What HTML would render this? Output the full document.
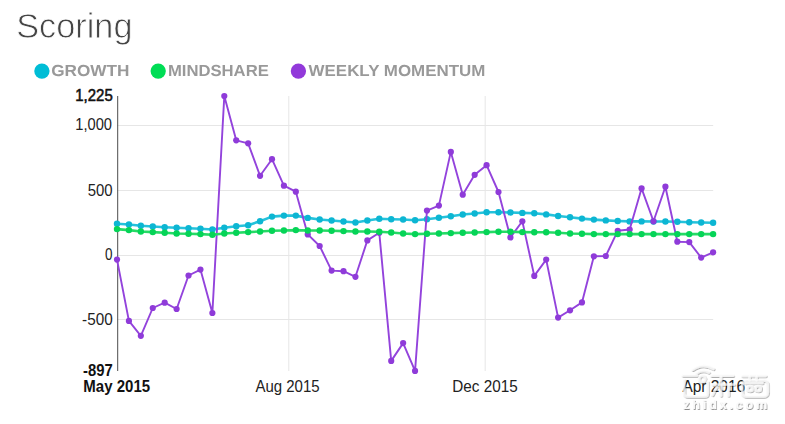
<!DOCTYPE html>
<html><head><meta charset="utf-8">
<style>
html,body{margin:0;padding:0;background:#fff;}
body{width:785px;height:424px;overflow:hidden;position:relative;font-family:"Liberation Sans",sans-serif;}
svg{position:absolute;left:0;top:0;}
svg.hd{will-change:transform;z-index:2;}
svg text{font-family:"Liberation Sans",sans-serif;font-size:16px;fill:#222;}
svg text.b{font-weight:bold;fill:#111;}
svg text.s{fill:#111;stroke:#111;stroke-width:0.55px;}
svg text.x{font-size:15.8px;}
svg text.t{font-size:34.5px;fill:#454545;stroke:#fff;stroke-width:0.8px;paint-order:fill stroke;}
svg text.l{text-rendering:geometricPrecision;font-size:16px;font-weight:bold;fill:#999;}
svg text.wm{font-size:12.5px;font-weight:bold;fill:#fbfbfb;}
</style></head><body>
<svg class="hd" width="785" height="90" viewBox="0 0 785 90">
<text class="t" x="16.2" y="38.3" textLength="116.3" lengthAdjust="spacingAndGlyphs">Scoring</text>
<circle cx="41.9" cy="71.05" r="7.65" fill="#00bdd6"/>
<text class="l" transform="translate(0 76.0) scale(1 1.0)" x="51.2" y="0" textLength="78.3" lengthAdjust="spacingAndGlyphs">GROWTH</text>
<circle cx="158.2" cy="71.05" r="7.65" fill="#00dd55"/>
<text class="l" transform="translate(0 76.0) scale(1 1.0)" x="167.9" y="0" textLength="100.9" lengthAdjust="spacingAndGlyphs">MINDSHARE</text>
<circle cx="298.4" cy="71.05" r="7.65" fill="#9239da"/>
<text class="l" transform="translate(0 76.0) scale(1 1.0)" x="308.6" y="0" textLength="176.8" lengthAdjust="spacingAndGlyphs">WEEKLY MOMENTUM</text>
</svg>
<svg width="785" height="424" viewBox="0 0 785 424">
<line x1="117" y1="125.5" x2="713.2" y2="125.5" stroke="#e6e6e6" stroke-width="1"/>
<line x1="117" y1="190.5" x2="713.2" y2="190.5" stroke="#e6e6e6" stroke-width="1"/>
<line x1="117" y1="255.5" x2="713.2" y2="255.5" stroke="#e6e6e6" stroke-width="1"/>
<line x1="117" y1="319.5" x2="713.2" y2="319.5" stroke="#e6e6e6" stroke-width="1"/>
<line x1="288.8" y1="96" x2="288.8" y2="371" stroke="#e6e6e6" stroke-width="1"/>
<line x1="485.2" y1="96" x2="485.2" y2="371" stroke="#e6e6e6" stroke-width="1"/>
<line x1="117.7" y1="96" x2="117.7" y2="371" stroke="#4d4d4d" stroke-width="1"/>
<polyline points="117.00,223.80 128.92,224.50 140.84,225.80 152.77,226.50 164.69,227.20 176.61,227.80 188.53,228.20 200.45,228.80 212.38,229.50 224.30,227.80 236.22,226.20 248.14,225.20 260.06,221.20 271.99,216.60 283.91,215.60 295.83,215.60 307.75,217.90 319.67,219.50 331.60,220.50 343.52,221.50 355.44,222.50 367.36,220.50 379.28,218.80 391.21,219.20 403.13,219.50 415.05,220.20 426.97,219.20 438.89,217.80 450.82,216.20 462.74,214.50 474.66,213.50 486.58,212.20 498.50,212.20 510.43,212.50 522.35,212.90 534.27,213.30 546.19,214.40 558.11,216.00 570.04,217.30 581.96,218.60 593.88,219.60 605.80,220.40 617.72,221.00 629.65,221.40 641.57,221.40 653.49,221.50 665.41,221.50 677.33,221.80 689.26,222.20 701.18,222.50 713.10,222.70" fill="none" stroke="#25c2db" stroke-width="2.6" stroke-linejoin="round" stroke-linecap="round"/>
<circle cx="117.00" cy="223.80" r="3.2" fill="#0cb6d3"/><circle cx="128.92" cy="224.50" r="3.2" fill="#0cb6d3"/><circle cx="140.84" cy="225.80" r="3.2" fill="#0cb6d3"/><circle cx="152.77" cy="226.50" r="3.2" fill="#0cb6d3"/><circle cx="164.69" cy="227.20" r="3.2" fill="#0cb6d3"/><circle cx="176.61" cy="227.80" r="3.2" fill="#0cb6d3"/><circle cx="188.53" cy="228.20" r="3.2" fill="#0cb6d3"/><circle cx="200.45" cy="228.80" r="3.2" fill="#0cb6d3"/><circle cx="212.38" cy="229.50" r="3.2" fill="#0cb6d3"/><circle cx="224.30" cy="227.80" r="3.2" fill="#0cb6d3"/><circle cx="236.22" cy="226.20" r="3.2" fill="#0cb6d3"/><circle cx="248.14" cy="225.20" r="3.2" fill="#0cb6d3"/><circle cx="260.06" cy="221.20" r="3.2" fill="#0cb6d3"/><circle cx="271.99" cy="216.60" r="3.2" fill="#0cb6d3"/><circle cx="283.91" cy="215.60" r="3.2" fill="#0cb6d3"/><circle cx="295.83" cy="215.60" r="3.2" fill="#0cb6d3"/><circle cx="307.75" cy="217.90" r="3.2" fill="#0cb6d3"/><circle cx="319.67" cy="219.50" r="3.2" fill="#0cb6d3"/><circle cx="331.60" cy="220.50" r="3.2" fill="#0cb6d3"/><circle cx="343.52" cy="221.50" r="3.2" fill="#0cb6d3"/><circle cx="355.44" cy="222.50" r="3.2" fill="#0cb6d3"/><circle cx="367.36" cy="220.50" r="3.2" fill="#0cb6d3"/><circle cx="379.28" cy="218.80" r="3.2" fill="#0cb6d3"/><circle cx="391.21" cy="219.20" r="3.2" fill="#0cb6d3"/><circle cx="403.13" cy="219.50" r="3.2" fill="#0cb6d3"/><circle cx="415.05" cy="220.20" r="3.2" fill="#0cb6d3"/><circle cx="426.97" cy="219.20" r="3.2" fill="#0cb6d3"/><circle cx="438.89" cy="217.80" r="3.2" fill="#0cb6d3"/><circle cx="450.82" cy="216.20" r="3.2" fill="#0cb6d3"/><circle cx="462.74" cy="214.50" r="3.2" fill="#0cb6d3"/><circle cx="474.66" cy="213.50" r="3.2" fill="#0cb6d3"/><circle cx="486.58" cy="212.20" r="3.2" fill="#0cb6d3"/><circle cx="498.50" cy="212.20" r="3.2" fill="#0cb6d3"/><circle cx="510.43" cy="212.50" r="3.2" fill="#0cb6d3"/><circle cx="522.35" cy="212.90" r="3.2" fill="#0cb6d3"/><circle cx="534.27" cy="213.30" r="3.2" fill="#0cb6d3"/><circle cx="546.19" cy="214.40" r="3.2" fill="#0cb6d3"/><circle cx="558.11" cy="216.00" r="3.2" fill="#0cb6d3"/><circle cx="570.04" cy="217.30" r="3.2" fill="#0cb6d3"/><circle cx="581.96" cy="218.60" r="3.2" fill="#0cb6d3"/><circle cx="593.88" cy="219.60" r="3.2" fill="#0cb6d3"/><circle cx="605.80" cy="220.40" r="3.2" fill="#0cb6d3"/><circle cx="617.72" cy="221.00" r="3.2" fill="#0cb6d3"/><circle cx="629.65" cy="221.40" r="3.2" fill="#0cb6d3"/><circle cx="641.57" cy="221.40" r="3.2" fill="#0cb6d3"/><circle cx="653.49" cy="221.50" r="3.2" fill="#0cb6d3"/><circle cx="665.41" cy="221.50" r="3.2" fill="#0cb6d3"/><circle cx="677.33" cy="221.80" r="3.2" fill="#0cb6d3"/><circle cx="689.26" cy="222.20" r="3.2" fill="#0cb6d3"/><circle cx="701.18" cy="222.50" r="3.2" fill="#0cb6d3"/><circle cx="713.10" cy="222.70" r="3.2" fill="#0cb6d3"/>
<polyline points="117.00,259.60 128.92,320.90 140.84,335.80 152.77,308.00 164.69,302.70 176.61,309.00 188.53,275.50 200.45,269.60 212.38,313.00 224.30,96.00 236.22,140.30 248.14,143.30 260.06,175.80 271.99,159.20 283.91,185.70 295.83,191.70 307.75,234.40 319.67,246.00 331.60,270.60 343.52,271.20 355.44,276.80 367.36,240.40 379.28,232.80 391.21,360.90 403.13,343.10 415.05,370.90 426.97,210.60 438.89,205.60 450.82,151.90 462.74,194.70 474.66,174.80 486.58,165.20 498.50,192.00 510.43,237.40 522.35,221.30 534.27,275.90 546.19,259.60 558.11,317.60 570.04,310.30 581.96,302.40 593.88,256.30 605.80,256.00 617.72,230.80 629.65,229.50 641.57,188.40 653.49,221.30 665.41,186.70 677.33,241.70 689.26,242.10 701.18,257.60 713.10,252.30" fill="none" stroke="#9343dc" stroke-width="1.9" stroke-linejoin="round" stroke-linecap="round"/>
<circle cx="117.00" cy="259.60" r="3.1" fill="#8f3bd9"/><circle cx="128.92" cy="320.90" r="3.1" fill="#8f3bd9"/><circle cx="140.84" cy="335.80" r="3.1" fill="#8f3bd9"/><circle cx="152.77" cy="308.00" r="3.1" fill="#8f3bd9"/><circle cx="164.69" cy="302.70" r="3.1" fill="#8f3bd9"/><circle cx="176.61" cy="309.00" r="3.1" fill="#8f3bd9"/><circle cx="188.53" cy="275.50" r="3.1" fill="#8f3bd9"/><circle cx="200.45" cy="269.60" r="3.1" fill="#8f3bd9"/><circle cx="212.38" cy="313.00" r="3.1" fill="#8f3bd9"/><circle cx="224.30" cy="96.00" r="3.1" fill="#8f3bd9"/><circle cx="236.22" cy="140.30" r="3.1" fill="#8f3bd9"/><circle cx="248.14" cy="143.30" r="3.1" fill="#8f3bd9"/><circle cx="260.06" cy="175.80" r="3.1" fill="#8f3bd9"/><circle cx="271.99" cy="159.20" r="3.1" fill="#8f3bd9"/><circle cx="283.91" cy="185.70" r="3.1" fill="#8f3bd9"/><circle cx="295.83" cy="191.70" r="3.1" fill="#8f3bd9"/><circle cx="307.75" cy="234.40" r="3.1" fill="#8f3bd9"/><circle cx="319.67" cy="246.00" r="3.1" fill="#8f3bd9"/><circle cx="331.60" cy="270.60" r="3.1" fill="#8f3bd9"/><circle cx="343.52" cy="271.20" r="3.1" fill="#8f3bd9"/><circle cx="355.44" cy="276.80" r="3.1" fill="#8f3bd9"/><circle cx="367.36" cy="240.40" r="3.1" fill="#8f3bd9"/><circle cx="379.28" cy="232.80" r="3.1" fill="#8f3bd9"/><circle cx="391.21" cy="360.90" r="3.1" fill="#8f3bd9"/><circle cx="403.13" cy="343.10" r="3.1" fill="#8f3bd9"/><circle cx="415.05" cy="370.90" r="3.1" fill="#8f3bd9"/><circle cx="426.97" cy="210.60" r="3.1" fill="#8f3bd9"/><circle cx="438.89" cy="205.60" r="3.1" fill="#8f3bd9"/><circle cx="450.82" cy="151.90" r="3.1" fill="#8f3bd9"/><circle cx="462.74" cy="194.70" r="3.1" fill="#8f3bd9"/><circle cx="474.66" cy="174.80" r="3.1" fill="#8f3bd9"/><circle cx="486.58" cy="165.20" r="3.1" fill="#8f3bd9"/><circle cx="498.50" cy="192.00" r="3.1" fill="#8f3bd9"/><circle cx="510.43" cy="237.40" r="3.1" fill="#8f3bd9"/><circle cx="522.35" cy="221.30" r="3.1" fill="#8f3bd9"/><circle cx="534.27" cy="275.90" r="3.1" fill="#8f3bd9"/><circle cx="546.19" cy="259.60" r="3.1" fill="#8f3bd9"/><circle cx="558.11" cy="317.60" r="3.1" fill="#8f3bd9"/><circle cx="570.04" cy="310.30" r="3.1" fill="#8f3bd9"/><circle cx="581.96" cy="302.40" r="3.1" fill="#8f3bd9"/><circle cx="593.88" cy="256.30" r="3.1" fill="#8f3bd9"/><circle cx="605.80" cy="256.00" r="3.1" fill="#8f3bd9"/><circle cx="617.72" cy="230.80" r="3.1" fill="#8f3bd9"/><circle cx="629.65" cy="229.50" r="3.1" fill="#8f3bd9"/><circle cx="641.57" cy="188.40" r="3.1" fill="#8f3bd9"/><circle cx="653.49" cy="221.30" r="3.1" fill="#8f3bd9"/><circle cx="665.41" cy="186.70" r="3.1" fill="#8f3bd9"/><circle cx="677.33" cy="241.70" r="3.1" fill="#8f3bd9"/><circle cx="689.26" cy="242.10" r="3.1" fill="#8f3bd9"/><circle cx="701.18" cy="257.60" r="3.1" fill="#8f3bd9"/><circle cx="713.10" cy="252.30" r="3.1" fill="#8f3bd9"/>
<polyline points="117.00,229.10 128.92,230.10 140.84,231.50 152.77,232.10 164.69,232.80 176.61,233.50 188.53,233.80 200.45,234.10 212.38,234.80 224.30,233.50 236.22,232.80 248.14,232.10 260.06,231.50 271.99,230.80 283.91,230.50 295.83,230.10 307.75,230.50 319.67,230.50 331.60,230.80 343.52,231.10 355.44,231.50 367.36,231.50 379.28,231.80 391.21,232.50 403.13,233.50 415.05,234.10 426.97,233.80 438.89,233.50 450.82,233.10 462.74,232.80 474.66,232.50 486.58,232.10 498.50,231.80 510.43,231.80 522.35,232.10 534.27,232.30 546.19,232.30 558.11,232.80 570.04,233.50 581.96,233.80 593.88,234.10 605.80,234.10 617.72,234.10 629.65,234.10 641.57,234.10 653.49,234.10 665.41,234.10 677.33,234.10 689.26,234.10 701.18,234.10 713.10,234.10" fill="none" stroke="#26da66" stroke-width="2.6" stroke-linejoin="round" stroke-linecap="round"/>
<circle cx="117.00" cy="229.10" r="3.2" fill="#05d457"/><circle cx="128.92" cy="230.10" r="3.2" fill="#05d457"/><circle cx="140.84" cy="231.50" r="3.2" fill="#05d457"/><circle cx="152.77" cy="232.10" r="3.2" fill="#05d457"/><circle cx="164.69" cy="232.80" r="3.2" fill="#05d457"/><circle cx="176.61" cy="233.50" r="3.2" fill="#05d457"/><circle cx="188.53" cy="233.80" r="3.2" fill="#05d457"/><circle cx="200.45" cy="234.10" r="3.2" fill="#05d457"/><circle cx="212.38" cy="234.80" r="3.2" fill="#05d457"/><circle cx="224.30" cy="233.50" r="3.2" fill="#05d457"/><circle cx="236.22" cy="232.80" r="3.2" fill="#05d457"/><circle cx="248.14" cy="232.10" r="3.2" fill="#05d457"/><circle cx="260.06" cy="231.50" r="3.2" fill="#05d457"/><circle cx="271.99" cy="230.80" r="3.2" fill="#05d457"/><circle cx="283.91" cy="230.50" r="3.2" fill="#05d457"/><circle cx="295.83" cy="230.10" r="3.2" fill="#05d457"/><circle cx="307.75" cy="230.50" r="3.2" fill="#05d457"/><circle cx="319.67" cy="230.50" r="3.2" fill="#05d457"/><circle cx="331.60" cy="230.80" r="3.2" fill="#05d457"/><circle cx="343.52" cy="231.10" r="3.2" fill="#05d457"/><circle cx="355.44" cy="231.50" r="3.2" fill="#05d457"/><circle cx="367.36" cy="231.50" r="3.2" fill="#05d457"/><circle cx="379.28" cy="231.80" r="3.2" fill="#05d457"/><circle cx="391.21" cy="232.50" r="3.2" fill="#05d457"/><circle cx="403.13" cy="233.50" r="3.2" fill="#05d457"/><circle cx="415.05" cy="234.10" r="3.2" fill="#05d457"/><circle cx="426.97" cy="233.80" r="3.2" fill="#05d457"/><circle cx="438.89" cy="233.50" r="3.2" fill="#05d457"/><circle cx="450.82" cy="233.10" r="3.2" fill="#05d457"/><circle cx="462.74" cy="232.80" r="3.2" fill="#05d457"/><circle cx="474.66" cy="232.50" r="3.2" fill="#05d457"/><circle cx="486.58" cy="232.10" r="3.2" fill="#05d457"/><circle cx="498.50" cy="231.80" r="3.2" fill="#05d457"/><circle cx="510.43" cy="231.80" r="3.2" fill="#05d457"/><circle cx="522.35" cy="232.10" r="3.2" fill="#05d457"/><circle cx="534.27" cy="232.30" r="3.2" fill="#05d457"/><circle cx="546.19" cy="232.30" r="3.2" fill="#05d457"/><circle cx="558.11" cy="232.80" r="3.2" fill="#05d457"/><circle cx="570.04" cy="233.50" r="3.2" fill="#05d457"/><circle cx="581.96" cy="233.80" r="3.2" fill="#05d457"/><circle cx="593.88" cy="234.10" r="3.2" fill="#05d457"/><circle cx="605.80" cy="234.10" r="3.2" fill="#05d457"/><circle cx="617.72" cy="234.10" r="3.2" fill="#05d457"/><circle cx="629.65" cy="234.10" r="3.2" fill="#05d457"/><circle cx="641.57" cy="234.10" r="3.2" fill="#05d457"/><circle cx="653.49" cy="234.10" r="3.2" fill="#05d457"/><circle cx="665.41" cy="234.10" r="3.2" fill="#05d457"/><circle cx="677.33" cy="234.10" r="3.2" fill="#05d457"/><circle cx="689.26" cy="234.10" r="3.2" fill="#05d457"/><circle cx="701.18" cy="234.10" r="3.2" fill="#05d457"/><circle cx="713.10" cy="234.10" r="3.2" fill="#05d457"/>
<text x="75.3" y="101.3" textLength="37.4" lengthAdjust="spacingAndGlyphs" class="s">1,225</text>
<text x="75.3" y="130.0" textLength="36.7" lengthAdjust="spacingAndGlyphs" class="n">1,000</text>
<text x="87.7" y="195.5" textLength="24.9" lengthAdjust="spacingAndGlyphs" class="n">500</text>
<text x="105.1" y="260.4" textLength="7.5" lengthAdjust="spacingAndGlyphs" class="n">0</text>
<text x="82.1" y="325.0" textLength="30.6" lengthAdjust="spacingAndGlyphs" class="n">-500</text>
<text x="83.0" y="376.1" textLength="29.7" lengthAdjust="spacingAndGlyphs" class="b">-897</text>
<text x="83.3" y="391.8" textLength="66.8" lengthAdjust="spacingAndGlyphs" class="x b">May 2015</text>
<text x="255.4" y="391.8" textLength="64.2" lengthAdjust="spacingAndGlyphs" class="x n">Aug 2015</text>
<text x="452.3" y="391.8" textLength="65.4" lengthAdjust="spacingAndGlyphs" class="x n">Dec 2015</text>
<text x="682.4" y="391.8" textLength="62.8" lengthAdjust="spacingAndGlyphs" class="x n">Apr 2016</text>

<defs><filter id="ws" x="-10%" y="-10%" width="130%" height="140%"><feDropShadow dx="0.7" dy="0.9" stdDeviation="0.55" flood-color="#000" flood-opacity="0.5"/></filter></defs>
<g filter="url(#ws)">
<g fill="none" stroke="#fdfdfd" stroke-width="2.5" stroke-opacity="0.7" stroke-linecap="round" stroke-linejoin="round">
<path d="M692.8 369.8 Q702.2 362.5 713.4 368.9"/>
<path d="M696.4 373.4 Q702 369.2 709 372.5"/>
<path d="M682.8 375.6 H697"/>
<circle cx="702.2" cy="378.9" r="3.1"/>
<path d="M684.2 380 V393.5 Q684.2 396.4 687.2 396.4 H704.8 Q707.8 396.4 707.8 393.4 V382"/>
<path d="M711.5 375.8 H733"/>
<path d="M713 384.5 H734"/>
<path d="M721 376.5 V395.5"/>
<path d="M728.5 385 V395.5"/>
<path d="M716.5 387 L712.5 395"/>
<path d="M742.2 376 H765.5"/>
<path d="M749.5 376.5 V380.5 M756.5 376.5 V380.5"/>
<rect x="742.2" y="380.6" width="25.6" height="15.9" rx="4"/>
<path d="M745.5 383 H762.3"/>
<circle cx="750" cy="388.5" r="2.6"/>
<circle cx="758.2" cy="388.5" r="2.6"/>
</g>
<text class="wm" x="683.2" y="408.8" textLength="84" lengthAdjust="spacing">zhidx.com</text>
</g>
</svg>
</body></html>
